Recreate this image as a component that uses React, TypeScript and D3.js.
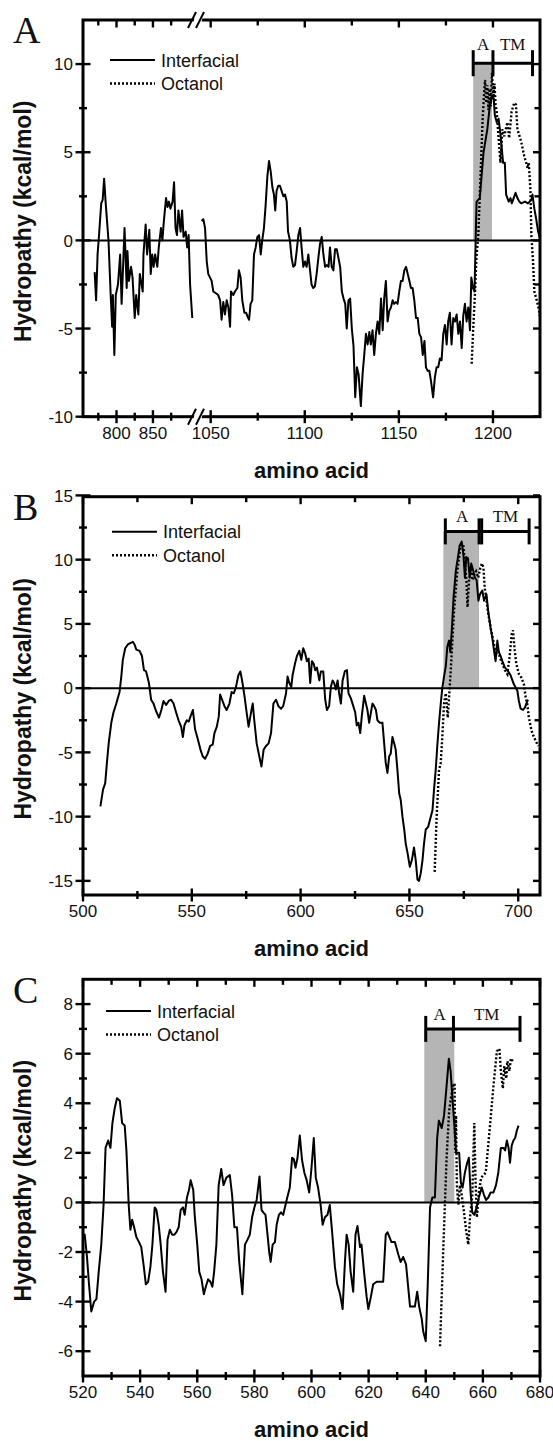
import React from "react";
import * as d3 from "d3";

type Pt = [number, number];

// ---- panel A (broken x axis) ----
const aInterfacialLeft: Pt[] = [
  [770, -1.8], [772, -3.4], [774, -0.8], [776, 0.3], [779, 2.1], [781, 2.3], [783, 3.5], [785, 2.2],
  [789, 0], [792, -3.1], [794, -4.9], [795, -3.1], [797, -6.5], [799, -3.1], [802, -2.5], [805, -0.8],
  [807, -3.6], [809, -1.5], [811, 0.7], [814, -2.7], [815, -0.6], [817, -2.3], [820, -1.5], [822, -2.1],
  [825, -4.4], [827, -3.1], [830, -4.2], [832, -1.9], [836, -2.9], [837, -0.8], [840, 0.9], [842, -0.8],
  [845, 0.6], [847, -1.9], [849, -0.8], [851, -1.5], [853, -0.8], [856, -1.5], [858, -0.4], [861, 0.7],
  [863, 0], [865, 1.1], [868, 2.4], [870, 1.9], [872, 2.2], [874, 1.8], [877, 2.2], [879, 3.3],
  [881, 0.7], [883, 0.3], [885, 1.7], [888, 0.5], [890, 1.7], [892, 0.2], [895, 0.5], [897, -0.4],
  [899, 0.3], [901, -2.5], [904, -4.4],
];
const aInterfacialRight: Pt[] = [
  [1045.2, 1.1], [1046.1, 1.2], [1047, 0.7], [1047.9, -1.2], [1048.7, -1.9], [1049.6, -2.1], [1050.5, -2.3],
  [1051.4, -2.9], [1052.8, -3.0], [1054, -3.1], [1055, -3.4], [1055.8, -4.5], [1056.7, -3.5], [1057.6, -4.2],
  [1058.5, -3.4], [1059.4, -3.8], [1060.3, -4.9], [1060.8, -2.9], [1062, -3.1], [1062.9, -2.9], [1064.2, -2.7],
  [1065, -1.7], [1065.9, -2.1], [1066.8, -3.4], [1067.9, -4.1], [1068.8, -4.1], [1069.5, -4.3], [1070.4, -4.5],
  [1071.2, -3.6], [1072.1, -3.4], [1073, -0.8], [1073.9, -0.4], [1074.8, 0.2], [1075.7, 0.3], [1076.6, -0.8],
  [1077.4, 0], [1078.3, 0.7], [1079.2, 2.0], [1080.1, 3.6], [1081, 4.5], [1081.9, 3.9], [1082.8, 3.0],
  [1083.6, 2.6], [1084.3, 1.7], [1085, 2.8], [1085.9, 3.1], [1086.8, 3.1], [1087.7, 2.8], [1088.6, 2.5],
  [1089.5, 2.6], [1090.4, 2.2], [1091.1, 0.5], [1092.1, 0], [1093, -1.0], [1093.9, -1.5], [1094.8, -1.4],
  [1095.7, -0.6], [1096.6, 0.3], [1097.5, 0.7], [1098.3, -0.4], [1099.2, -1.5], [1100.1, -1.2], [1101, -1.5],
  [1101.9, -0.8], [1102.8, -1.7], [1103.6, -2.5], [1104.5, -2.7], [1105.4, -2.6], [1106.3, -1.9], [1107.2, -1.0],
  [1108.1, -0.2], [1109, 0.2], [1109.9, -0.8], [1110.8, -1.5], [1111.7, -1.4], [1112.6, -1.5], [1113.4, -0.4],
  [1114.3, -1.5], [1115.2, -1.7], [1116.1, -0.5], [1117, -0.5], [1117.9, -1.0], [1118.8, -1.5], [1119.7, -2.9],
  [1120.6, -3.3], [1121.5, -3.6], [1122.3, -5.0], [1123.2, -3.4], [1124.1, -3.3], [1125, -5.0], [1125.9, -6.0],
  [1126.8, -8.9], [1127.7, -7.2], [1128.6, -7.6], [1129.8, -9.4], [1130.7, -7.6], [1131.6, -6.5], [1132.5, -5.3],
  [1133.4, -5.9], [1134.3, -5.2], [1135.1, -5.9], [1136, -5.1], [1136.9, -6.5], [1137.8, -5.3], [1138.7, -4.6],
  [1139.6, -5.3], [1140.5, -3.3], [1141.4, -5.1], [1142.2, -3.3], [1143.1, -2.3], [1144, -4.6], [1144.9, -4.0],
  [1145.8, -3.8], [1146.7, -3.4], [1147.5, -3.6], [1148.4, -3.5], [1149.3, -3.6], [1150.2, -2.9], [1151.1, -2.3],
  [1152, -2.3], [1152.9, -1.7], [1153.8, -1.5], [1154.7, -1.9], [1155.6, -2.3], [1156.4, -2.7], [1157.3, -2.7],
  [1158.2, -3.4], [1159.1, -4.4], [1160, -4.4], [1160.9, -5.3], [1161.8, -5.5], [1162.7, -6.5], [1163.6, -5.7],
  [1164.4, -7.2], [1165.3, -7.4], [1166.2, -7.4], [1167.1, -8.0], [1168.2, -8.9], [1169.1, -7.8], [1170, -7.2],
  [1170.9, -7.2], [1171.8, -6.7], [1172.7, -6.8], [1173.6, -5.3], [1174.5, -4.8], [1175.4, -5.9], [1176.2, -4.6],
  [1177.1, -4.1], [1178, -5.9], [1178.9, -4.4], [1179.8, -4.6], [1180.7, -4.2], [1181.6, -5.3], [1182.5, -4.6],
  [1183.4, -6.1], [1184.2, -4.3], [1185.1, -3.6], [1186, -4.6], [1186.9, -3.8], [1187.8, -5.1], [1188.5, -2.1],
  [1189.4, -2.7], [1190.2, -2.9], [1190.8, 0], [1191.3, 2.2], [1193, 2.4], [1194, 3.7], [1195, 5.0],
  [1197, 6.3], [1198, 7.3], [1198.6, 7.8], [1199.5, 8.2], [1200.4, 8.0], [1201, 7.1], [1202, 6.7],
  [1203, 6.9], [1204, 6.0], [1205.4, 4.4], [1206.3, 4.4], [1207, 2.6], [1208.4, 2.2], [1209.3, 2.4],
  [1210, 2.1], [1211, 2.4], [1212, 2.7], [1213, 2.4], [1214, 2.2], [1215, 2.1], [1217, 2.2],
  [1218.6, 2.1], [1220.4, 2.3], [1221, 2.6], [1222, 1.8], [1223, 1.2], [1224, 0.5], [1225, 0.1],
];
const aOctanol: Pt[] = [
  [1188.7, -7.0], [1189.5, -5.0], [1190.4, -3.1], [1191.2, -1.0], [1192.2, 0.3], [1193, 2.5], [1193.8, 4.8],
  [1194.5, 6.8], [1195.2, 8.2], [1195.8, 9.1], [1196.4, 7.8], [1197, 8.8], [1197.6, 7.4], [1198.2, 8.6],
  [1198.8, 7.6], [1199.5, 9.5], [1200.2, 8.0], [1200.8, 8.9], [1201.4, 7.7], [1202, 7.3], [1203, 5.8],
  [1204, 4.4], [1205, 6.3], [1206, 5.9], [1206.8, 6.3], [1207.7, 6.7], [1208.6, 5.8], [1209.9, 7.3],
  [1211.3, 7.8], [1212.2, 7.7], [1213, 6.3], [1215, 5.6], [1216.6, 4.8], [1218.4, 4.1], [1219, 4.4],
  [1219.9, 2.9], [1220.4, 0.3], [1221.3, -1.2], [1222, -2.9], [1224, -3.7], [1225, -4.3],
];

// ---- panel B ----
const bInterfacial: Pt[] = [
  [508, -9.2], [509.2, -7.9], [510.2, -7.4], [511, -5.8], [511.8, -4.3], [513, -2.7], [514, -1.9], [515.3, -1.2],
  [516.8, -0.3], [517.6, 0.9], [518.3, 2.2], [519.4, 3.1], [520.6, 3.4], [521.7, 3.5], [522.9, 3.6], [523.7, 3.4],
  [524.5, 3.0], [526, 2.9], [527.1, 2.5], [528, 1.4], [529, 1.3], [530.3, 0.4], [531.3, -0.9], [532.4, -1.2],
  [533.6, -1.8], [534.9, -2.3], [536, -1.7], [537, -1.0], [538.2, -1.3], [539.4, -1.0], [540.5, -0.9], [541.6, -1.2],
  [542.8, -1.9], [543.9, -2.5], [545.1, -3.0], [545.9, -3.8], [546.6, -2.9], [547.7, -2.5], [548.6, -2.6], [549.4, -2.2],
  [550.5, -1.7], [551.5, -3.2], [552.8, -4.0], [554, -4.8], [555, -5.3], [556.1, -5.5], [557.3, -5.1], [558.4, -4.5],
  [559.6, -4.4], [560.4, -3.5], [561.5, -3.0], [562.4, -2.2], [563, -0.5], [563.9, -0.9], [565, -1.4], [566, -1.7],
  [567.3, -1.2], [568.3, -0.3], [569.3, -0.4], [570.3, 0.1], [571.4, 1.0], [572.3, 1.3], [573.1, 0.6], [574.2, -0.6],
  [575.2, -1.9], [576.1, -3.0], [577.2, -1.9], [578, -1.2], [578.7, -2.5], [579.8, -4.3], [581, -5.3], [582, -6.1],
  [583, -4.8], [584.1, -4.5], [585.3, -4.3], [586.4, -3.5], [587.5, -1.2], [588.7, -0.9], [589.8, -1.4], [591, -1.6],
  [592, -1.4], [593.3, -0.4], [594, 0.9], [594.8, 0.4], [595.7, 0.1], [596.3, 1.0], [597.4, 1.9], [598.3, 2.5],
  [599.4, 2.9], [600.3, 2.2], [601.2, 3.1], [602.1, 2.7], [602.9, 2.1], [603.7, 2.3], [604.4, 0.4], [605.2, 2.1],
  [606, 1.9], [606.7, 1.4], [607.5, 1.6], [608.6, 0.6], [609.3, 1.3], [610.4, 1.3], [611.3, -0.9], [612.1, -1.7],
  [613.1, -1.4], [613.9, 0.1], [614.7, 0.6], [615.4, 0.4], [616.2, -0.1], [617, 0.6], [617.7, -0.4], [618.5, -1.2],
  [619.3, 0.6], [620.3, 1.3], [621.3, 1.4], [622, -0.4], [623.1, -0.8], [624.2, -1.4], [625.1, -1.9], [625.8, -2.9],
  [626.6, -2.7], [627.4, -3.5], [628.1, -2.2], [629.2, -0.6], [630, -1.2], [630.7, -1.7], [631.5, -2.7], [632.3, -1.9],
  [633, -1.2], [633.8, -1.4], [634.6, -1.7], [635.3, -2.5], [636.4, -2.7], [637.6, -2.7], [638.4, -4.3], [639.1, -5.8],
  [639.9, -6.6], [640.7, -5.3], [641.4, -5.1], [642.2, -3.8], [643, -4.3], [643.7, -4.8], [644.5, -6.4], [645.3, -8.2],
  [646, -8.7], [646.8, -10.0], [647.6, -11.0], [648.3, -12.1], [649.1, -12.8], [650.2, -13.9], [651.1, -13.4],
  [652.1, -12.4], [652.9, -13.4], [653.7, -14.9], [654.4, -15.0], [655.2, -14.4], [656, -13.4], [656.7, -12.1],
  [657.5, -11.0], [658.6, -10.8], [659.5, -10.2], [660.6, -9.5], [661.3, -7.9], [662.1, -6.3], [662.8, -4.5],
  [663.6, -2.7], [664.4, -1.2], [665.1, 0], [665.9, 0.9], [666.7, 1.7], [667.4, 3.2], [668.2, 3.7], [668.8, 2.8],
  [669.5, 4.6], [670.3, 7.1], [671.3, 9.1], [672.3, 10.2], [673.1, 11.1], [674, 11.4], [674.8, 10.4], [675.5, 8.6],
  [676.1, 10.2], [676.9, 10.1], [677.7, 8.6], [678.4, 9.7], [679.4, 9.1], [680.1, 8.6], [680.9, 8.4], [681.7, 6.8],
  [682.4, 7.3], [683.5, 7.6], [684.3, 6.8], [685.4, 7.3], [686.2, 6.0], [687.3, 4.7], [688.1, 3.9], [688.9, 2.9],
  [689.6, 2.1], [690.4, 3.7], [691.1, 2.8], [691.9, 2.5], [692.7, 2.1], [693.9, 1.6], [695, 1.4], [696.5, 1.0],
  [698, 0.3], [699.6, -0.2], [700.3, -1.0], [701.1, -1.6], [702.2, -1.7], [703.1, -1.5], [703.7, -1.2], [704.5, -0.9],
];
const bOctanol: Pt[] = [
  [661.6, -14.3], [662.5, -10.0], [663.6, -6.4], [664.4, -5.8], [665.2, -3.5], [665.9, -1.2], [666.7, -0.4],
  [667.2, -1.5], [667.6, -2.3], [668.3, -0.5], [669, 1.4], [670.5, 6.0], [672, 9.1], [673.5, 11.1], [674.7, 11.2],
  [675.5, 9.7], [676.2, 8.4], [676.7, 6.3], [677.4, 8.4], [678.3, 9.4], [679, 8.4], [679.8, 8.9], [680.6, 9.1],
  [681.6, 8.6], [682.5, 9.3], [683.3, 9.7], [684, 9.4], [684.6, 7.8], [685.2, 7.1], [686.2, 5.8], [687.3, 4.7],
  [688.9, 3.4], [689.6, 2.4], [690.4, 3.2], [691.5, 2.4], [692.7, 1.9], [693.9, 1.4], [695, 1.1], [696, 2.4],
  [697, 4.2], [697.6, 4.5], [698.4, 2.9], [699.1, 1.9], [700.3, 1.1], [701.5, 0.8], [702.6, 0.3], [703.4, -0.7],
  [704.1, -1.2], [704.9, -2.3], [706.1, -3.3], [707.2, -3.8], [708.3, -4.2], [709.2, -4.5],
];

// ---- panel C ----
const cInterfacial: Pt[] = [
  [520, -1.4], [520.6, -1.3], [521.4, -2.2], [522.1, -3.3], [522.9, -4.4], [523.9, -4.0], [524.7, -3.9], [525.5, -2.8],
  [526.4, -1.7], [527.2, -0.1], [527.9, 2.2], [528.8, 2.5], [529.6, 2.2], [530.3, 3.2], [531.1, 3.8], [531.9, 4.2],
  [532.9, 4.1], [533.7, 3.2], [534.6, 3.1], [535.2, 2.1], [536, -0.1], [536.6, -1.1], [537.2, -0.7], [537.9, -1.0],
  [538.7, -1.4], [539.6, -1.6], [540.4, -1.8], [541.3, -2.6], [542, -3.3], [542.8, -3.2], [543.6, -2.6], [544.3, -1.7],
  [545.1, -0.2], [545.7, -0.3], [546.5, -0.9], [547.2, -1.7], [548, -2.8], [548.9, -3.6], [549.6, -1.5], [550.4, -1.1],
  [551.2, -1.3], [552, -1.3], [552.7, -1.2], [553.5, -1.0], [554.2, -0.3], [555, -0.2], [555.6, -0.5], [556.4, 0.2],
  [557.1, 0.5], [557.7, 0.9], [558.6, 0.5], [559.1, -0.5], [560, -1.7], [560.7, -2.8], [561.5, -3.1], [562.3, -3.7],
  [563, -3.4], [563.8, -3.1], [564.6, -3.2], [565.3, -3.4], [565.9, -2.8], [566.7, -1.7], [567.5, 0.7], [568.4, 1.35],
  [569.2, 0.7], [570.2, 1.0], [571.4, 1.1], [572.2, 0.3], [573, -1.0], [573.9, -1.0], [574.7, -2.4], [575.8, -3.7],
  [576.7, -1.7], [577.6, -1.5], [578.4, -1.3], [579.2, -0.6], [580, -0.2], [580.8, 0.1], [581.8, 1.05], [582.5, -0.3],
  [583.1, -0.4], [583.9, -0.5], [584.6, -1.3], [585.2, -2.0], [585.7, -2.4], [586.4, -1.7], [587.2, -1.6], [587.8, -0.9],
  [588.6, -0.5], [589.3, -0.4], [590.1, -0.5], [591.3, 0.1], [592.4, 0.6], [593.2, 1.8], [593.8, 1.75], [594.4, 1.4],
  [595.1, 1.8], [595.9, 2.7], [596.7, 1.7], [597.5, 1.2], [598.3, 0.9], [599.2, 0.4], [600, 1.4], [600.8, 2.6],
  [601.5, 1.0], [602.3, 0.6], [603.2, -0.1], [603.9, -0.9], [604.7, -0.6], [605.6, -0.5], [606.4, -0.1], [607.3, -1.3],
  [608.2, -2.6], [609, -3.3], [610, -3.7], [610.9, -4.3], [611.7, -2.4], [612.3, -1.3], [613, -1.7], [613.7, -2.8],
  [614.6, -3.6], [615.4, -1.3], [616.1, -0.95], [617, -1.8], [617.5, -1.7], [618.4, -2.8], [619.3, -3.8], [619.9, -4.3],
  [620.8, -3.8], [621.6, -3.3], [622.8, -3.2], [624, -3.2], [625.1, -3.2], [626, -1.3], [626.6, -1.2], [628, -1.6],
  [629.2, -1.6], [630.4, -2.1], [631.2, -2.4], [632.1, -2.2], [633.1, -2.5], [634.5, -4.2], [636.2, -4.2], [637, -3.6],
  [637.7, -4.2], [638.6, -4.7], [639.1, -5.2], [640, -5.6], [640.7, -3.3], [641.5, -0.2], [642.3, 0.2], [643.2, 0.2],
  [644, 2.6], [644.6, 3.3], [645.6, 3.0], [646.4, 3.5], [647.3, 4.7], [648.1, 5.8], [648.7, 5.3], [649.4, 4.1],
  [649.9, 3.3], [650.6, 2.0], [651.7, 2.0], [652.3, 0.8], [652.9, 0.6], [653.7, 1.2], [654.5, 1.6], [655.1, 1.8],
  [655.7, 0.4], [656.3, -0.4], [657, -0.5], [657.8, -0.2], [658.6, 0.2], [659.6, 0.6], [660.4, 0.3], [661.1, 0.1],
  [661.9, 0.2], [662.7, 0.4], [663.7, 0.4], [664.6, 0.7], [665.4, 1.2], [666.3, 2.2], [667.2, 2.2], [667.8, 2.1],
  [668.4, 2.5], [669, 2.2], [669.5, 1.6], [670.1, 2.3], [670.7, 2.5], [671.3, 2.6], [671.9, 2.9], [672.5, 3.1],
];
const cOctanol: Pt[] = [
  [645, -5.8], [646.1, -2.0], [646.7, -0.1], [647.3, 1.8], [648.2, 3.7], [648.8, 4.2], [649.6, 4.7], [650.1, 4.8],
  [650.3, 2.0], [650.6, 3.5], [650.9, 0.7], [651.4, -0.1], [652, 0.7], [652.6, 0.3], [653.4, -0.4], [654.2, -1.2],
  [654.9, -1.7], [655.5, -0.6], [656.3, 0.3], [657, 3.2], [657.4, 1.0], [657.9, -0.6], [658.6, 0.4], [659.4, 1.0],
  [660.2, 1.1], [661, 1.2], [662.5, 3.1], [663.7, 4.7], [664.9, 6.1], [665.8, 6.2], [666.3, 5.3], [667, 4.6],
  [667.5, 5.5], [668.2, 5.0], [668.6, 5.7], [669.3, 5.3], [669.8, 5.8], [670.5, 5.7],
];

// ticks
const aXMajor = [800, 850, 1050, 1100, 1150, 1200];
const aXMinor = [775, 825, 875, 1075, 1125, 1175];
const aYMajor = [-10, -5, 0, 5, 10];
const aYMinor = [-7.5, -2.5, 2.5, 7.5];
const bXMajor = [500, 550, 600, 650, 700];
const bXMinor = [525, 575, 625, 675];
const bYMajor = [-15, -10, -5, 0, 5, 10, 15];
const bYMinor = [-12.5, -7.5, -2.5, 2.5, 7.5, 12.5];
const cXMajor = [520, 540, 560, 580, 600, 620, 640, 660, 680];
const cXMinor = [530, 550, 570, 590, 610, 630, 650, 670];
const cYMajor = [-6, -4, -2, 0, 2, 4, 6, 8];
const cYMinor = [-5, -3, -1, 1, 3, 5, 7];

// segments: [A start, A end / TM start, TM end], bracket height
const aRegion = { caps: [1189.5, 1200, 1221], shade: [1189.5, 1199.5], top: 10.05 };
const bRegion = { caps: [666.5, 682, 683.2, 705], shade: [665.6, 682], top: 12.2 };
const cRegion = { caps: [640, 649.7, 673], shade: [639.5, 650], top: 7 };

const SANS = "'Liberation Sans', Arial, Helvetica, sans-serif";
const SERIF = "'Liberation Serif', 'Times New Roman', serif";
const LEFT = 83;
const RIGHT = 540;

interface PanelProps {
  letter: string;
  letterY: number;
  top: number;
  bottom: number;
  yDomain: [number, number];
  yMajor: number[];
  yMinor: number[];
  xPos: (v: number) => number;
  xMajor: number[];
  xMinor: number[];
  solid: Pt[][];
  dotted: Pt[][];
  region: { caps: number[]; shade: number[]; top: number };
  labelDy: number;
  legendX: number;
  legendY: number;
  breakX?: number;
}

function Panel(p: PanelProps) {
  const y = d3.scaleLinear().domain(p.yDomain).range([p.bottom, p.top]);
  const line = d3
    .line<Pt>()
    .x((d) => p.xPos(d[0]))
    .y((d) => y(d[1]));
  const caps = p.region.caps;
  const by = y(p.region.top);
  const aMid = (p.xPos(caps[0]) + p.xPos(caps[1])) / 2;
  const tmMid = (p.xPos(caps[caps.length - 2]) + p.xPos(caps[caps.length - 1])) / 2;
  const midY = (p.top + p.bottom) / 2;

  const breakMark = (yy: number, key: string) => {
    if (p.breakX === undefined) return null;
    const cx = p.breakX;
    return (
      <g key={key}>
        <polygon
          points={`${cx - 5},${yy + 8} ${cx + 3},${yy + 8} ${cx + 7},${yy - 8} ${cx - 1},${yy - 8}`}
          fill="#fff"
        />
        <line x1={cx - 9} y1={yy + 8} x2={cx - 1} y2={yy - 8} stroke="#000" strokeWidth={2} />
        <line x1={cx - 1} y1={yy + 8} x2={cx + 7} y2={yy - 8} stroke="#000" strokeWidth={2} />
      </g>
    );
  };

  return (
    <g>
      {/* shaded amphipathic segment */}
      <rect
        x={p.xPos(p.region.shade[0])}
        y={y(p.region.top)}
        width={p.xPos(p.region.shade[1]) - p.xPos(p.region.shade[0])}
        height={y(0) - y(p.region.top)}
        fill="#b5b5b5"
      />
      {/* zero line */}
      <line x1={LEFT} x2={RIGHT} y1={y(0)} y2={y(0)} stroke="#000" strokeWidth={2} />
      {p.solid.map((s, i) => (
        <path key={"s" + i} d={line(s) || ""} fill="none" stroke="#000" strokeWidth={2} strokeLinejoin="round" />
      ))}
      {p.dotted.map((s, i) => (
        <path key={"d" + i} d={line(s) || ""} fill="none" stroke="#000" strokeWidth={2.4} strokeDasharray="2 2" />
      ))}

      {/* bracket */}
      <line x1={p.xPos(caps[0])} x2={p.xPos(caps[caps.length - 1])} y1={by} y2={by} stroke="#000" strokeWidth={3} />
      {caps.map((c, i) => (
        <line key={"c" + i} x1={p.xPos(c)} x2={p.xPos(c)} y1={by - 13} y2={by + 13} stroke="#000" strokeWidth={3} />
      ))}
      <text x={aMid} y={by - p.labelDy} textAnchor="middle" fontFamily={SERIF} fontSize={17} fill="#111">A</text>
      <text x={tmMid} y={by - p.labelDy} textAnchor="middle" fontFamily={SERIF} fontSize={17} fill="#111">TM</text>

      {/* frame */}
      <rect x={LEFT} y={p.top} width={RIGHT - LEFT} height={p.bottom - p.top} fill="none" stroke="#000" strokeWidth={3} />

      {/* x ticks */}
      {p.xMajor.map((t) => (
        <g key={"xm" + t}>
          <line x1={p.xPos(t)} x2={p.xPos(t)} y1={p.bottom - 6.5} y2={p.bottom + 6.5} stroke="#000" strokeWidth={2.4} />
          <line x1={p.xPos(t)} x2={p.xPos(t)} y1={p.top} y2={p.top + 7.5} stroke="#000" strokeWidth={2.4} />
          <text x={p.xPos(t)} y={p.bottom + 22} textAnchor="middle" fontFamily={SANS} fontSize={17} fill="#111">
            {t}
          </text>
        </g>
      ))}
      {p.xMinor.map((t) => (
        <g key={"xn" + t}>
          <line x1={p.xPos(t)} x2={p.xPos(t)} y1={p.bottom - 4} y2={p.bottom + 4} stroke="#000" strokeWidth={2.4} />
          <line x1={p.xPos(t)} x2={p.xPos(t)} y1={p.top} y2={p.top + 5.5} stroke="#000" strokeWidth={2.4} />
        </g>
      ))}
      {/* y ticks */}
      {p.yMajor.map((t) => (
        <g key={"ym" + t}>
          <line x1={LEFT - 7.5} x2={LEFT + 7.5} y1={y(t)} y2={y(t)} stroke="#000" strokeWidth={2.4} />
          <line x1={RIGHT - 7} x2={RIGHT} y1={y(t)} y2={y(t)} stroke="#000" strokeWidth={2.4} />
          <text x={LEFT - 10} y={y(t)} dy="0.36em" textAnchor="end" fontFamily={SANS} fontSize={17} fill="#111">
            {t}
          </text>
        </g>
      ))}
      {p.yMinor.map((t) => (
        <g key={"yn" + t}>
          <line x1={LEFT - 4} x2={LEFT + 4} y1={y(t)} y2={y(t)} stroke="#000" strokeWidth={2.4} />
          <line x1={RIGHT - 5.5} x2={RIGHT} y1={y(t)} y2={y(t)} stroke="#000" strokeWidth={2.4} />
        </g>
      ))}

      {breakMark(p.top, "bt")}
      {breakMark(p.bottom, "bb")}

      {/* legend */}
      <line x1={p.legendX} x2={p.legendX + 45} y1={p.legendY} y2={p.legendY} stroke="#000" strokeWidth={2} />
      <text x={p.legendX + 51} y={p.legendY + 6.5} fontFamily={SANS} fontSize={18} fill="#111">Interfacial</text>
      <line
        x1={p.legendX}
        x2={p.legendX + 45}
        y1={p.legendY + 23.5}
        y2={p.legendY + 23.5}
        stroke="#000"
        strokeWidth={2.4}
        strokeDasharray="2 2"
      />
      <text x={p.legendX + 51} y={p.legendY + 30} fontFamily={SANS} fontSize={18} fill="#111">Octanol</text>

      {/* titles */}
      <text
        transform={`translate(31,${midY + 3}) rotate(-90)`}
        textAnchor="middle"
        fontFamily={SANS}
        fontWeight="bold"
        fontSize={23}
        fill="#111"
      >
        Hydropathy (kcal/mol)
      </text>
      <text x={(LEFT + RIGHT) / 2} y={p.bottom + 61} textAnchor="middle" fontFamily={SANS} fontWeight="bold" fontSize={22} fill="#111">
        amino acid
      </text>
      <text x={13} y={p.letterY} fontFamily={SERIF} fontSize={38} fill="#111">
        {p.letter}
      </text>
    </g>
  );
}

export default function App() {
  const aLeft = d3.scaleLinear().domain([754, 905]).range([LEFT, 193]);
  const aRight = d3.scaleLinear().domain([1044, 1225]).range([199.4, RIGHT]);
  const xA = (v: number) => (v < 1000 ? aLeft(v) : aRight(v));
  const xB = d3.scaleLinear().domain([500, 710]).range([LEFT, RIGHT]);
  const xC = d3.scaleLinear().domain([520, 680]).range([LEFT, RIGHT]);

  return (
    <svg
      width={553}
      height={1441}
      viewBox="0 0 553 1441"
      style={{ position: "absolute", left: 0, top: 0, background: "#fff" }}
    >
      <rect width={553} height={1441} fill="#fff" />
      <Panel
        letter="A"
        letterY={43}
        top={20}
        bottom={416.7}
        yDomain={[-10, 12.5]}
        yMajor={aYMajor}
        yMinor={aYMinor}
        xPos={xA}
        xMajor={aXMajor}
        xMinor={aXMinor}
        solid={[aInterfacialLeft, aInterfacialRight]}
        dotted={[aOctanol]}
        region={aRegion}
        labelDy={13.5}
        legendX={110}
        legendY={60}
        breakX={197}
      />
      <Panel
        letter="B"
        letterY={520}
        top={496.7}
        bottom={895}
        yDomain={[-16.1, 14.9]}
        yMajor={bYMajor}
        yMinor={bYMinor}
        xPos={(v) => xB(v)}
        xMajor={bXMajor}
        xMinor={bXMinor}
        solid={[bInterfacial]}
        dotted={[bOctanol]}
        region={bRegion}
        labelDy={9}
        legendX={112}
        legendY={531.7}
      />
      <Panel
        letter="C"
        letterY={1003}
        top={979.3}
        bottom={1376}
        yDomain={[-7, 9]}
        yMajor={cYMajor}
        yMinor={cYMinor}
        xPos={(v) => xC(v)}
        xMajor={cXMajor}
        xMinor={cXMinor}
        solid={[cInterfacial]}
        dotted={[cOctanol]}
        region={cRegion}
        labelDy={9}
        legendX={106}
        legendY={1011}
      />
    </svg>
  );
}
